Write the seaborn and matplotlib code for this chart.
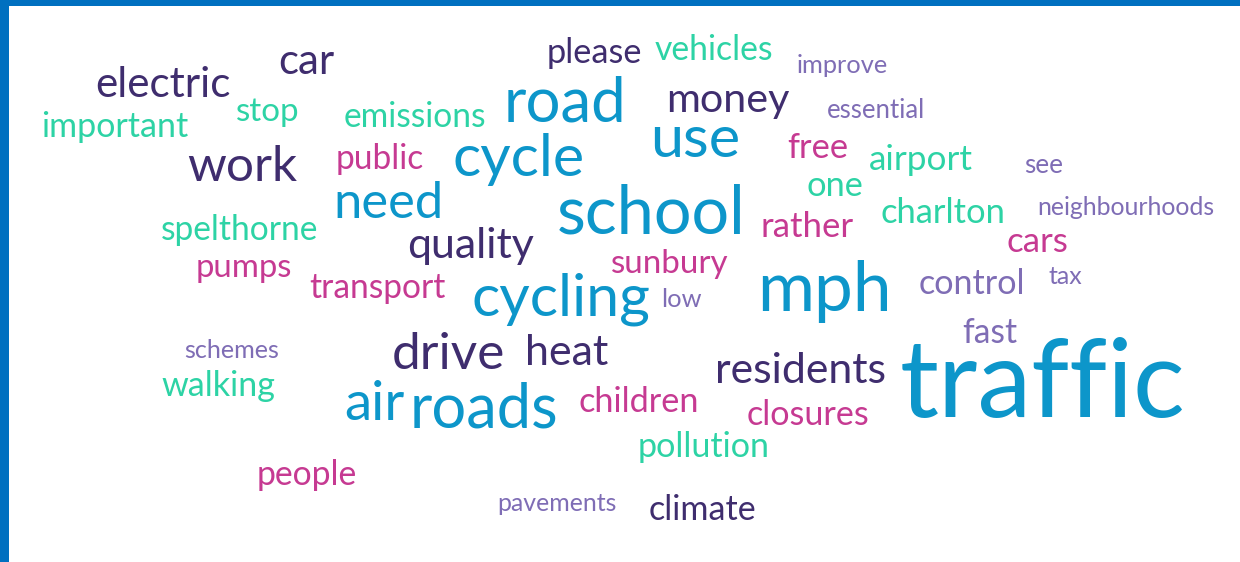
import matplotlib
matplotlib.use("Agg")
import matplotlib.pyplot as plt
import seaborn as sns
from matplotlib.font_manager import FontProperties
from matplotlib.textpath import TextPath

# ---- data: words and their colour group ----
words = ["electric", "car", "please", "vehicles", "improve", "emissions", "road",
         "money", "essential", "important", "stop", "work", "public", "use", "cycle",
         "free", "airport", "see", "need", "one", "school", "rather", "charlton",
         "neighbourhoods", "spelthorne", "quality", "cars", "sunbury", "pumps",
         "control", "tax", "transport", "cycling", "mph", "low", "fast", "schemes",
         "drive", "heat", "residents", "traffic", "walking", "air", "roads",
         "children", "closures", "pollution", "people", "pavements", "climate"]
groups = ["purple", "purple", "purple", "teal", "lavender", "teal", "blue",
          "purple", "lavender", "teal", "teal", "purple", "magenta", "blue", "blue",
          "magenta", "teal", "lavender", "blue", "teal", "blue", "magenta", "teal",
          "lavender", "teal", "purple", "magenta", "magenta", "magenta",
          "lavender", "lavender", "magenta", "blue", "blue", "lavender", "lavender", "lavender",
          "purple", "purple", "purple", "blue", "teal", "blue", "blue",
          "magenta", "magenta", "teal", "magenta", "lavender", "purple"]

# ---- layout (pixel space of the cloud): left, right, baseline ----
x_left = [96, 279, 548, 655, 798, 345, 508, 668, 828, 42, 237, 188, 337, 653, 455,
          788, 870, 1025, 337, 808, 560, 762, 882, 1038, 162, 408, 1008, 612, 197,
          920, 1049, 310, 473, 762, 662, 963, 185, 394, 527, 717, 902, 162, 345, 413,
          580, 748, 640, 258, 498, 650]
x_right = [229, 333, 640, 772, 887, 485, 622, 788, 923, 187, 298, 297, 422, 737, 582,
           847, 972, 1062, 440, 862, 742, 852, 1003, 1213, 317, 533, 1067, 728, 290,
           1023, 1082, 445, 648, 887, 700, 1017, 278, 503, 607, 884, 1183, 275, 403, 555,
           697, 868, 768, 355, 615, 755]
baseline = [97, 74, 63, 60, 73, 127, 122, 112, 118, 137, 121, 181, 169, 157, 176,
            158, 170, 173, 218, 196, 233, 237, 223, 215, 240, 258, 252, 273, 277,
            294, 284, 298, 315, 311, 307, 343, 358, 369, 365, 383, 417, 396, 420, 427,
            412, 425, 457, 485, 511, 520]

group_colors = {
    "purple": "#3f2d6e",
    "teal": "#2dd3a5",
    "blue": "#0d96ca",
    "magenta": "#c63a92",
    "lavender": "#7f6db5",
}

W, H, DPI = 1240, 562, 100

sns.set_theme(style="white")
plt.rcParams['font.family'] = ['Lato', 'DejaVu Sans']

fig = plt.figure(figsize=(W / DPI, H / DPI), dpi=DPI)
ax = fig.add_axes([0, 0, 1, 1])
ax.set_xlim(0, W)
ax.set_ylim(H, 0)
ax.axis("off")

# frame on left and top
ax.axvspan(0, 9, color="#0070c0", lw=0)
ax.axhspan(0, 6, color="#0070c0", lw=0)

fp = FontProperties(family="Lato")
for w, g, l, r, b in zip(words, groups, x_left, x_right, baseline):
    ext = TextPath((0, 0), w, size=100, prop=fp).get_extents()
    fs = (r - l) * 100 * 72 / (ext.width * DPI)
    ax.text((l + r) / 2, b, w, fontsize=fs, color=group_colors[g],
            ha="center", va="baseline", fontfamily=["Lato", "DejaVu Sans"])

fig.savefig("out.png", dpi=DPI)
